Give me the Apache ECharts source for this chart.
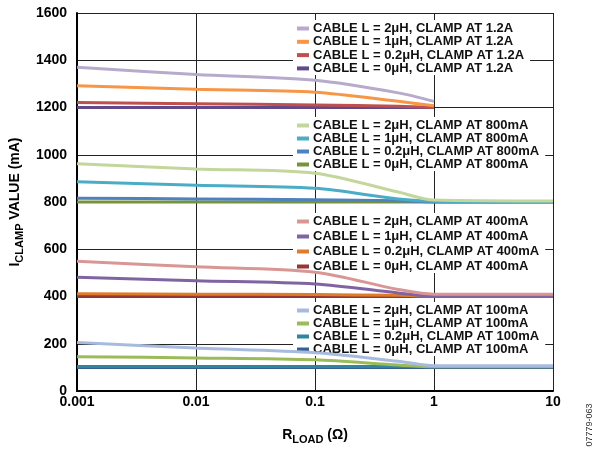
<!DOCTYPE html>
<html>
<head>
<meta charset="utf-8">
<script src="https://cdn.jsdelivr.net/npm/echarts@6/dist/echarts.min.js"></script>
<style>html,body{margin:0;padding:0;background:#fff}#c{width:601px;height:450px}</style>
</head>
<body>
<div id="c"></div>
<script>
// R_LOAD values (Ω)
var xs = [0.001, 0.01, 0.1, 0.5, 1, 10];
var xTicks = ['0.001', '0.01', '0.1', '1', '10'];
var yTicks = [0, 200, 400, 600, 800, 1000, 1200, 1400, 1600];

// CLAMP AT 1.2A (measured up to 1 Ω)
var a12_2uH  = [1370, 1340, 1315, 1262, 1226];
var a12_1uH  = [1292, 1277, 1265, 1226, 1207];
var a12_02uH = [1221, 1216, 1211, 1205, 1200];
var a12_0uH  = [1200, 1200, 1200, 1200, 1200];

// CLAMP AT 800mA
var m800_2uH  = [962, 940, 922, 842, 808, 804];
var m800_1uH  = [886, 871, 858, 813, 803, 800];
var m800_02uH = [816, 813, 810, 805, 800, 800];
var m800_0uH  = [800, 800, 800, 800, 800, 800];

// CLAMP AT 400mA
var m400_2uH  = [549, 526, 503, 430, 410, 409];
var m400_1uH  = [482, 467, 453, 415, 401, 400];
var m400_02uH = [412, 410, 408, 405, 402, 402];
var m400_0uH  = [400, 400, 400, 400, 400, 400];

// CLAMP AT 100mA
var m100_2uH  = [205, 182, 162, 126, 107, 107];
var m100_1uH  = [145, 140, 132, 110, 103, 103];
var m100_02uH = [104, 104, 104, 104, 104, 104];
var m100_0uH  = [100, 100, 100, 100, 100, 100];

var names12  = ['CABLE L = 2μH, CLAMP AT 1.2A', 'CABLE L = 1μH, CLAMP AT 1.2A', 'CABLE L = 0.2μH, CLAMP AT 1.2A', 'CABLE L = 0μH, CLAMP AT 1.2A'];
var names800 = ['CABLE L = 2μH, CLAMP AT 800mA', 'CABLE L = 1μH, CLAMP AT 800mA', 'CABLE L = 0.2μH, CLAMP AT 800mA', 'CABLE L = 0μH, CLAMP AT 800mA'];
var names400 = ['CABLE L = 2μH, CLAMP AT 400mA', 'CABLE L = 1μH, CLAMP AT 400mA', 'CABLE L = 0.2μH, CLAMP AT 400mA', 'CABLE L = 0μH, CLAMP AT 400mA'];
var names100 = ['CABLE L = 2μH, CLAMP AT 100mA', 'CABLE L = 1μH, CLAMP AT 100mA', 'CABLE L = 0.2μH, CLAMP AT 100mA', 'CABLE L = 0μH, CLAMP AT 100mA'];

var colors12  = ['#b7aacb', '#f79646', '#c0504d', '#604a8b'];
var colors800 = ['#c3d69b', '#4bacc6', '#4f81bd', '#77933c'];
var colors400 = ['#d99694', '#8064a2', '#e07b28', '#953735'];
var colors100 = ['#a6bbdd', '#9bbb59', '#31859c', '#376092'];

var FONT = '"Liberation Sans", Arial, Helvetica, sans-serif';

function pairs(vals) { return vals.map(function (v, i) { return [xs[i], v]; }); }

var groups = [
  { names: names12,  colors: colors12,  data: [a12_2uH, a12_1uH, a12_02uH, a12_0uH] },
  { names: names800, colors: colors800, data: [m800_2uH, m800_1uH, m800_02uH, m800_0uH] },
  { names: names400, colors: colors400, data: [m400_2uH, m400_1uH, m400_02uH, m400_0uH] },
  { names: names100, colors: colors100, data: [m100_2uH, m100_1uH, m100_02uH, m100_0uH] }
];

var series = [];
groups.forEach(function (g) {
  for (var i = 3; i >= 0; i--) {
    series.push({
      name: g.names[i],
      type: 'line',
      data: pairs(g.data[i]),
      showSymbol: false,
      smooth: 0.3,
      lineStyle: { width: 3, color: g.colors[i] },
      itemStyle: { color: g.colors[i] },
      z: 2
    });
  }
});

var legendTops = [20, 117, 213, 302];
var legendGaps = [0.3, 0, 2, 0];
var legends = groups.map(function (g, k) {
  return {
    data: g.names,
    orient: 'vertical',
    left: 293,
    top: legendTops[k],
    itemGap: legendGaps[k],
    itemWidth: 12,
    itemHeight: 4,
    icon: 'rect',
    padding: [2, 6, 0, 4],
    backgroundColor: '#fff',
    selectedMode: false,
    z: 1,
    textStyle: { fontFamily: FONT, fontSize: 13, fontWeight: 'bold', color: '#111', lineHeight: 13, padding: [0, 0, 0, -1] }
  };
});

var chart = echarts.init(document.getElementById('c'), null, { renderer: 'canvas' });
chart.setOption({
  animation: false,
  backgroundColor: '#fff',
  grid: { left: 73, right: 48, top: 13, bottom: 53 },
  legend: legends,
  xAxis: {
    type: 'log',
    logBase: 10,
    min: 0.001,
    max: 10,
    axisLine: { show: true, onZero: false, lineStyle: { color: '#000', width: 2 } },
    axisTick: { show: false },
    splitLine: { show: true, lineStyle: { color: '#222', width: 1 } },
    axisLabel: {
      fontFamily: FONT, fontSize: 14, fontWeight: 'bold', color: '#000', margin: 4,
      formatter: function (v) {
        var idx = Math.round(Math.log10(v)) + 3;
        return xTicks[idx] !== undefined ? xTicks[idx] : '';
      }
    },
    name: '{a|R}{b|LOAD}{a| (Ω)}',
    nameLocation: 'middle',
    nameGap: 34,
    nameTextStyle: {
      fontFamily: FONT, fontWeight: 'bold', color: '#000',
      rich: {
        a: { fontFamily: FONT, fontSize: 14, fontWeight: 'bold', color: '#000', lineHeight: 20, verticalAlign: 'middle' },
        b: { fontFamily: FONT, fontSize: 11, fontWeight: 'bold', color: '#000', lineHeight: 20, verticalAlign: 'bottom' }
      }
    }
  },
  yAxis: {
    type: 'value',
    min: 0,
    max: 1600,
    interval: 200,
    axisLine: { show: true, lineStyle: { color: '#000', width: 2 } },
    axisTick: { show: false },
    splitLine: { show: true, lineStyle: { color: '#222', width: 1 } },
    axisLabel: {
      fontFamily: FONT, fontSize: 14, fontWeight: 'bold', color: '#000', margin: 10,
      formatter: function (v) { return yTicks.indexOf(v) >= 0 ? String(v) : ''; }
    },
    name: '{a|I}{b|CLAMP}{a| VALUE (mA)}',
    nameLocation: 'middle',
    nameRotate: 90,
    nameGap: 40,
    nameTextStyle: {
      fontFamily: FONT, fontWeight: 'bold', color: '#000',
      rich: {
        a: { fontFamily: FONT, fontSize: 14, fontWeight: 'bold', color: '#000', lineHeight: 20, verticalAlign: 'middle' },
        b: { fontFamily: FONT, fontSize: 11, fontWeight: 'bold', color: '#000', lineHeight: 20, verticalAlign: 'bottom' }
      }
    }
  },
  graphic: [{
    type: 'text',
    x: 590,
    y: 425,
    rotation: Math.PI / 2,
    style: { text: '07779-063', fontFamily: FONT, fontSize: 9, fill: '#333', align: 'center', verticalAlign: 'middle' }
  }],
  series: series
});
</script>
</body>
</html>
